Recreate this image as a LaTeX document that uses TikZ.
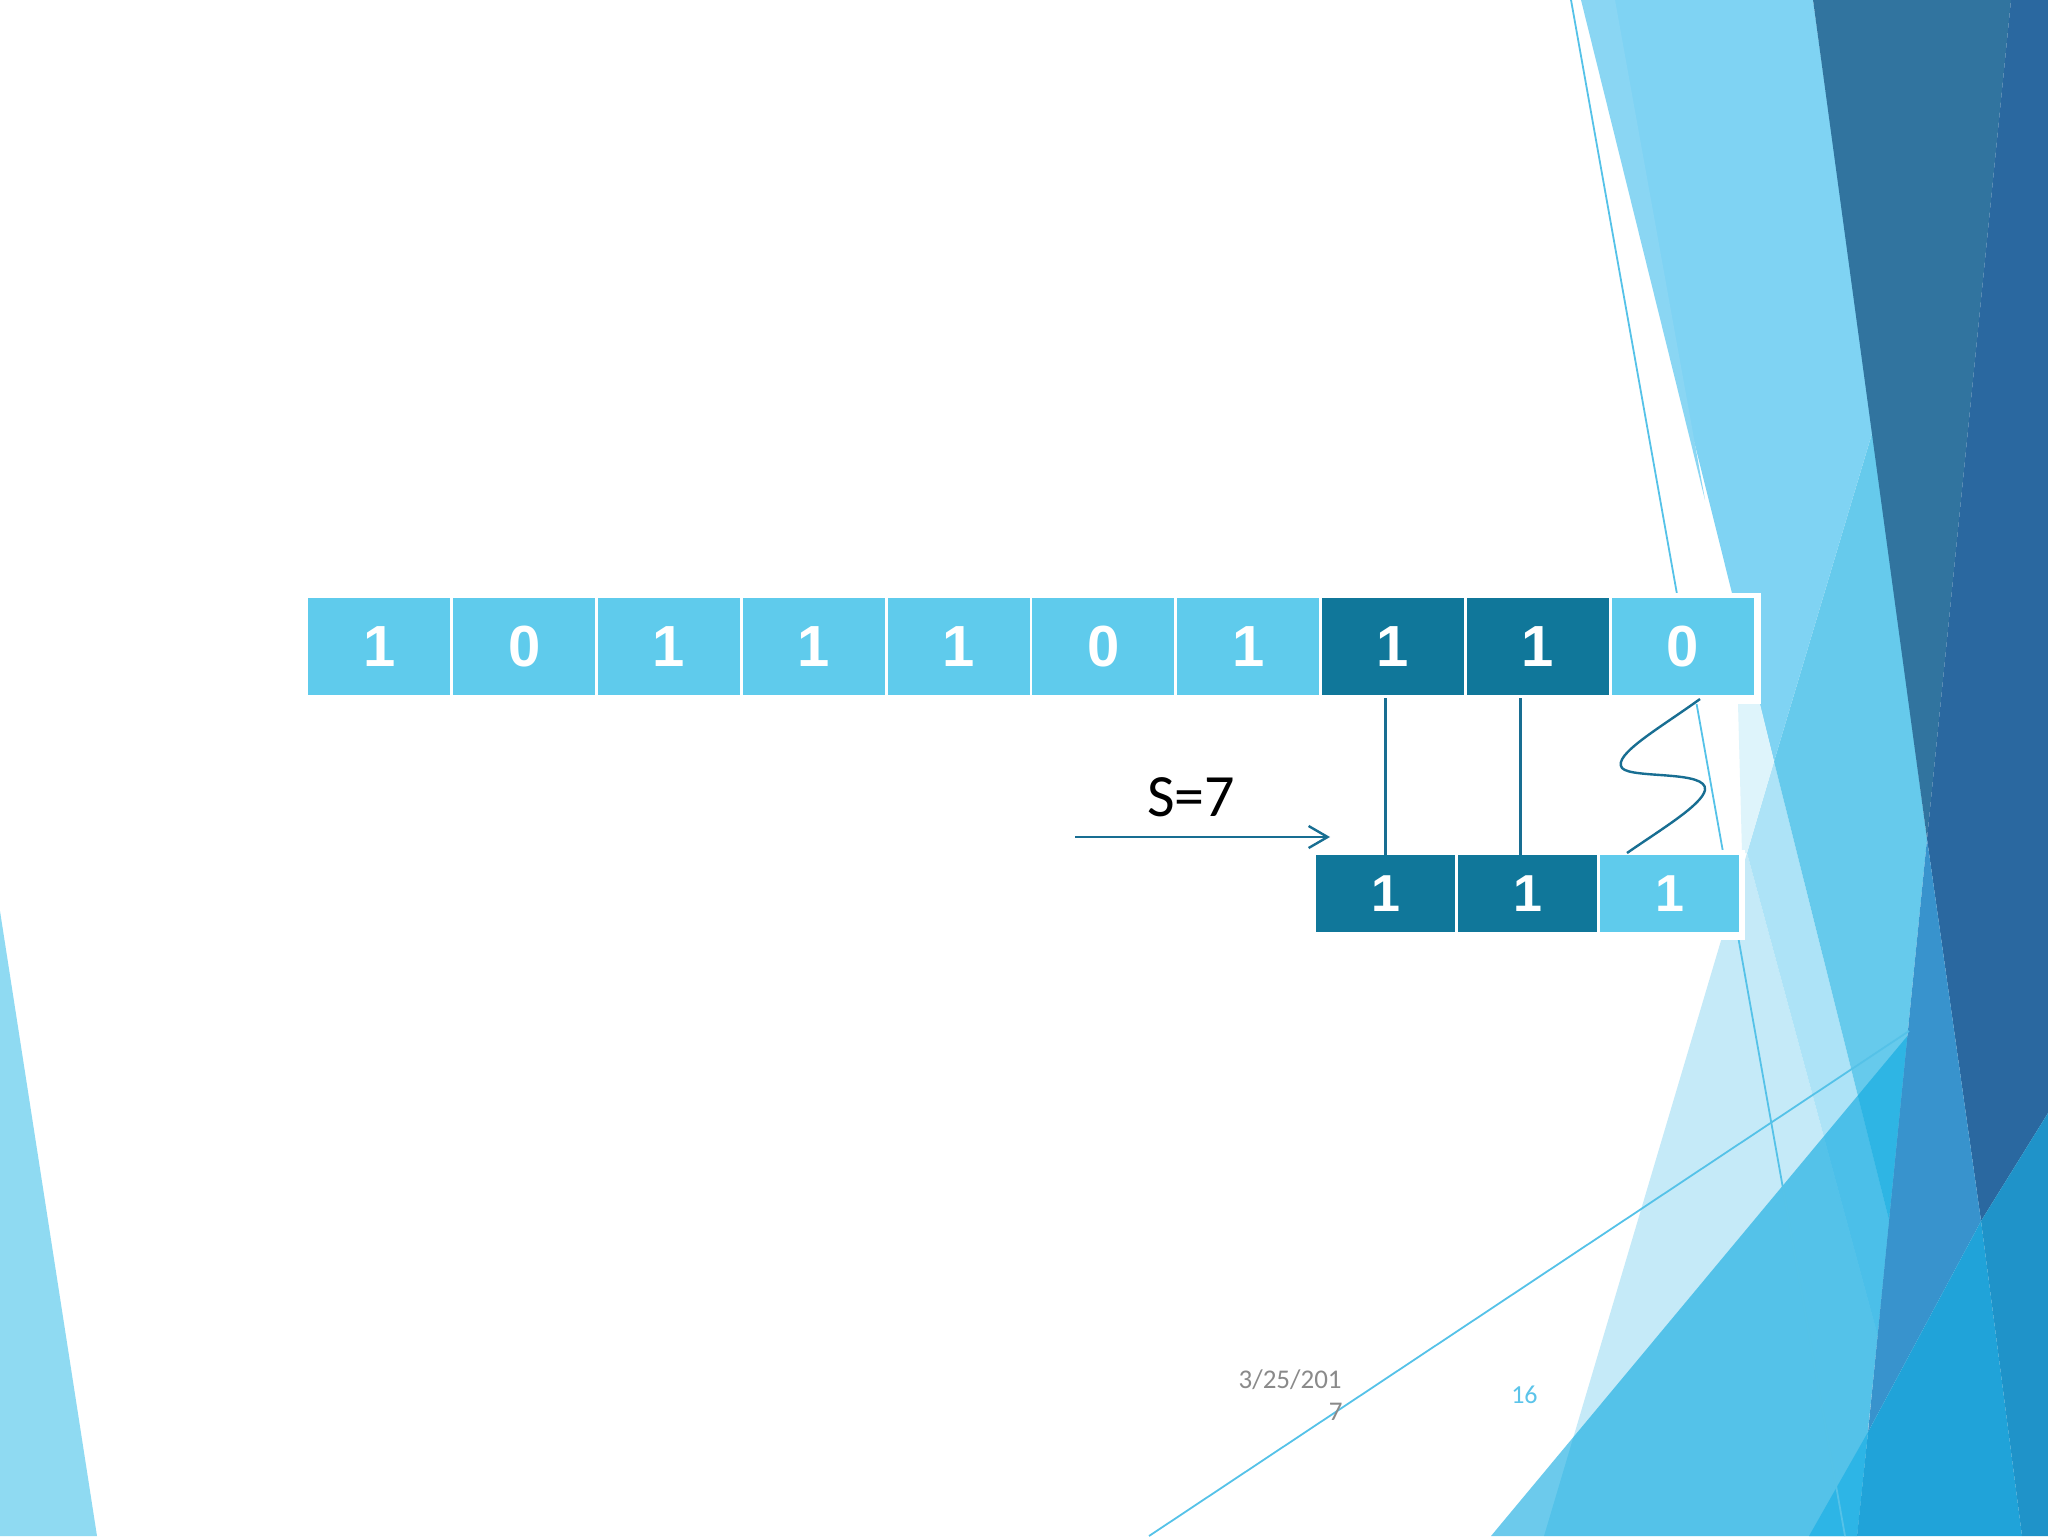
\documentclass[tikz,border=0pt]{standalone}
\usepackage{fontspec}
\setmainfont{Liberation Sans}
\newfontfamily\calib{Carlito}
\usetikzlibrary{arrows.meta}
\definecolor{cellL}{RGB}{95,203,236}
\definecolor{cellD}{RGB}{16,119,154}
\definecolor{wireC}{RGB}{24,110,146}
\definecolor{bgL}{RGB}{127,211,243}
\definecolor{bgLs}{RGB}{138,214,243}
\definecolor{bgM}{RGB}{102,202,236}
\definecolor{bgP}{RGB}{197,234,248}
\definecolor{bgVP}{RGB}{222,244,251}
\definecolor{bgBand}{RGB}{173,227,247}
\definecolor{bgDa}{RGB}{49,116,159}
\definecolor{bgDb}{RGB}{42,104,160}
\definecolor{bgB2}{RGB}{56,147,205}
\definecolor{bgT1}{RGB}{45,181,230}
\definecolor{bgT2}{RGB}{32,163,217}
\definecolor{bgT3}{RGB}{31,147,201}
\definecolor{bgC}{RGB}{10,168,224}
\definecolor{bgLeft}{RGB}{143,218,242}
\definecolor{thinC}{RGB}{85,194,232}
\definecolor{dateC}{RGB}{138,138,138}
\definecolor{pageC}{RGB}{91,196,234}
\begin{document}
\begin{tikzpicture}[x=0.5pt,y=-0.5pt,
  tcell/.style={fill=#1, minimum width=71pt, minimum height=48.5pt, inner sep=0pt,
    text=white, font=\bfseries\fontsize{29}{29}\selectfont},
  bcell/.style={fill=#1, minimum width=69.5pt, minimum height=38.5pt, inner sep=0pt,
    text=white, font=\bfseries\fontsize{26}{26}\selectfont},
  wire/.style={draw=wireC, line width=1.2pt},
  thin/.style={draw=thinC, line width=0.9pt},
  ]
\useasboundingbox (0,0) rectangle (2048,1536);
\clip (0,0) rectangle (2048,1536);
\fill[white] (0,0) rectangle (2048,1536);
% left decoration
\fill[bgLeft] (0,911) -- (97,1536) -- (0,1536) -- cycle;
% right decorations
\fill[bgP] (1544,1536) -- (1747,853) -- (1877.5,1335) -- (1857,1536) -- cycle;
\fill[bgBand] (1747,853) -- (1774,761.5) -- (1889,1220) -- (1877.5,1335) -- cycle;
\fill[bgM] (1873,430) -- (1927,839) -- (1889,1220) -- (1774,761.5) -- cycle;
\fill[bgL] (1584,0) -- (1813,0) -- (1873,430) -- (1774,761.5) -- cycle;
\fill[bgLs] (1581,0) -- (1615,0) -- (1705,500) -- cycle;
\fill[bgVP] (1738,704) -- (1760,704) -- (1774,761.5) -- (1747,853) -- (1742,853) -- cycle;
\fill[bgC, fill opacity=0.6] (1491,1536) -- (1909,1034) -- (1857,1536) -- cycle;
\fill[bgDa] (1813,0) -- (2011,0) -- (1927,839) -- cycle;
\fill[bgDb] (2011,0) -- (2048,0) -- (2048,1113) -- (1981,1221) -- (1927,839) -- cycle;
\fill[bgB2] (1927,839) -- (1981,1221) -- (1868,1432) -- cycle;
\fill[bgT1] (1809,1536) -- (1868,1432) -- (1857,1536) -- cycle;
\fill[bgT2] (1868,1432) -- (1981,1221) -- (2022,1536) -- (1857,1536) -- cycle;
\fill[bgT3] (1981,1221) -- (2048,1113) -- (2048,1536) -- (2022,1536) -- cycle;
\draw[thin] (1571,0) -- (1845,1536);
\draw[thin] (1149,1536) -- (1909,1031);
% white backing of the tables
\fill[white] (303,593) rectangle (1761,704);
\fill[white] (1311,850) rectangle (1745,940);
% top row
\foreach \d/\c [count=\i] in {1/cellL,0/cellL,1/cellL,1/cellL,1/cellL,0/cellL,1/cellL,1/cellD,1/cellD,0/cellL}
  \node[tcell=\c] (t\i) at ({379.4+144.8*(\i-1)},646.5) {\d};
% bottom row
\foreach \d/\c [count=\i] in {1/cellD,1/cellD,1/cellL}
  \node[bcell=\c] (b\i) at ({1385.5+142*(\i-1)},893.5) {\d};
% connectors
\draw[wire] (b1.north) -- ([yshift=-1.5pt]b1.north |- t8.south);
\draw[wire] ([xshift=-3.5pt]b2.north) -- ([xshift=-3.5pt,yshift=-1.5pt]b2.north |- t9.south);
\coordinate (sTop) at (1700,699);
\coordinate (sBot) at (1627,853);
\draw[wire] (sTop) .. controls (1660,728) and (1612,755) .. (1622,768)
  .. controls (1632,779) and (1708,770) .. (1705,790)
  .. controls (1702,805) and (1660,830) .. (sBot);
\coordinate (arrS) at (1075,837);
\coordinate (arrE) at (1330,837);
\draw[wire, -{Straight Barb[length=9.5pt,width=11pt]}] (arrS) -- (arrE);
\node[font=\calib\fontsize{30}{30}\selectfont, inner sep=0pt] (slabel) at (1191,797) {S=7};
% footer
\node[font=\calib\fontsize{13.5}{13.5}\selectfont, text=dateC, anchor=base east, inner sep=0pt] (date1) at (1342,1388) {3/25/201};
\node[font=\calib\fontsize{13.5}{13.5}\selectfont, text=dateC, anchor=base east, inner sep=0pt] (date2) at (1343,1420) {7};
\node[font=\calib\fontsize{13}{13}\selectfont, text=pageC, anchor=base east, inner sep=0pt] (page) at (1538,1403) {16};
\end{tikzpicture}
\end{document}
